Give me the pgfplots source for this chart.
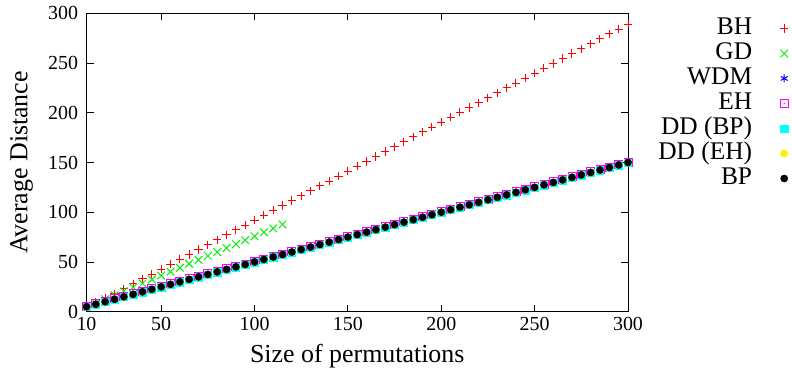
\documentclass[border=0pt]{standalone}
\usepackage{fontspec}
\setmainfont{Liberation Serif}
\newfontfamily\lserif{Liberation Serif}
\usepackage{pgfplots}
\usepackage{pgfplotstable}
\pgfplotsset{compat=1.18}
\pgfdeclareplotmark{sqdot}{%
  \pgfpathrectangle{\pgfpoint{-\pgfplotmarksize}{-\pgfplotmarksize}}{\pgfpoint{2\pgfplotmarksize}{2\pgfplotmarksize}}%
  \pgfusepathqstroke
  \pgfpathcircle{\pgfpointorigin}{0.6pt}%
  \pgfusepathqfill
}
\definecolor{gpred}{RGB}{255,0,0}
\definecolor{gpgreen}{RGB}{0,240,0}
\definecolor{gpblue}{RGB}{0,0,255}
\definecolor{gpmag}{RGB}{255,0,255}
\definecolor{gpcyan}{RGB}{0,255,255}
\definecolor{gpyellow}{RGB}{255,240,0}

\pgfplotstableread{
x BH WDM EH DDBP DDEH BP
10 5.0 5.0 5.5 4.7 5.0 5.0
15 9.3 7.5 8.0 7.2 7.5 7.5
20 14.0 10.0 10.5 9.7 10.0 10.0
25 18.1 12.5 13.0 12.2 12.5 12.5
30 23.1 15.0 15.5 14.7 15.0 15.0
35 28.0 17.5 18.0 17.2 17.5 17.5
40 32.9 20.0 20.5 19.7 20.0 20.0
45 37.8 22.5 23.0 22.2 22.5 22.5
50 42.8 25.0 25.5 24.7 25.0 25.0
55 47.7 27.5 28.0 27.2 27.5 27.5
60 52.6 30.0 30.5 29.7 30.0 30.0
65 57.5 32.5 33.0 32.2 32.5 32.5
70 62.5 35.0 35.5 34.7 35.0 35.0
75 67.4 37.5 38.0 37.2 37.5 37.5
80 72.3 40.0 40.5 39.7 40.0 40.0
85 77.2 42.5 43.0 42.2 42.5 42.5
90 82.2 45.0 45.5 44.7 45.0 45.0
95 87.1 47.5 48.0 47.2 47.5 47.5
100 92.0 50.0 50.5 49.7 50.0 50.0
105 96.9 52.5 53.0 52.2 52.5 52.5
110 101.9 55.0 55.5 54.7 55.0 55.0
115 106.8 57.5 58.0 57.2 57.5 57.5
120 111.7 60.0 60.5 59.7 60.0 60.0
125 116.6 62.5 63.0 62.2 62.5 62.5
130 121.6 65.0 65.5 64.7 65.0 65.0
135 126.5 67.5 68.0 67.2 67.5 67.5
140 131.4 70.0 70.5 69.7 70.0 70.0
145 136.3 72.5 73.0 72.2 72.5 72.5
150 141.3 75.0 75.5 74.7 75.0 75.0
155 146.2 77.5 78.0 77.2 77.5 77.5
160 151.1 80.0 80.5 79.7 80.0 80.0
165 156.0 82.5 83.0 82.2 82.5 82.5
170 161.0 85.0 85.5 84.7 85.0 85.0
175 165.9 87.5 88.0 87.2 87.5 87.5
180 170.8 90.0 90.5 89.7 90.0 90.0
185 175.7 92.5 93.0 92.2 92.5 92.5
190 180.7 95.0 95.5 94.7 95.0 95.0
195 185.6 97.5 98.0 97.2 97.5 97.5
200 190.5 100.0 100.5 99.7 100.0 100.0
205 195.4 102.5 103.0 102.2 102.5 102.5
210 200.4 105.0 105.5 104.7 105.0 105.0
215 205.3 107.5 108.0 107.2 107.5 107.5
220 210.2 110.0 110.5 109.7 110.0 110.0
225 215.1 112.5 113.0 112.2 112.5 112.5
230 220.1 115.0 115.5 114.7 115.0 115.0
235 225.0 117.5 118.0 117.2 117.5 117.5
240 229.9 120.0 120.5 119.7 120.0 120.0
245 234.8 122.5 123.0 122.2 122.5 122.5
250 239.8 125.0 125.5 124.7 125.0 125.0
255 244.7 127.5 128.0 127.2 127.5 127.5
260 249.6 130.0 130.5 129.7 130.0 130.0
265 254.5 132.5 133.0 132.2 132.5 132.5
270 259.5 135.0 135.5 134.7 135.0 135.0
275 264.4 137.5 138.0 137.2 137.5 137.5
280 269.3 140.0 140.5 139.7 140.0 140.0
285 274.2 142.5 143.0 142.2 142.5 142.5
290 279.2 145.0 145.5 144.7 145.0 145.0
295 284.1 147.5 148.0 147.2 147.5 147.5
300 289.0 150.0 150.5 149.7 150.0 150.0
}\maintable

\pgfplotstableread{
x GD
10 4.7
15 8.7
20 12.6
25 16.6
30 20.5
35 24.5
40 28.4
45 32.4
50 36.3
55 40.3
60 44.2
65 48.2
70 52.1
75 56.1
80 60.0
85 64.0
90 67.9
95 71.9
100 75.8
105 79.8
110 83.7
115 87.7
}\gdtable

\begin{document}
\begin{tikzpicture}
\useasboundingbox (0,0) rectangle (792bp,368bp);
\begin{axis}[
  at={(86.5bp,56.3bp)}, anchor=south west,
  scale only axis,
  width=541.5bp, height=298.4bp,
  xmin=10, xmax=300, ymin=0, ymax=300,
  xtick={10,50,100,150,200,250,300},
  ytick={0,50,100,150,200,250,300},
  tick align=inside,
  major tick length=7bp,
  axis line style={line width=1bp, black},
  every tick/.style={line width=0.9bp, black},
  /pgf/number format/assume math mode=true,
  ticklabel style={font=\lserif\fontsize{20}{24}\selectfont},
  xticklabel style={yshift=-2bp},
  yticklabel style={xshift=-5bp},
  clip=false,
  xlabel={Size of permutations},
  ylabel={Average Distance},
  label style={font=\lserif\fontsize{26}{30}\selectfont},
  xlabel style={at={(axis description cs:0.5,-0.1702)}, anchor=base},
  ylabel style={at={(axis description cs:-0.109,0.5)}, anchor=base, rotate=0},
  legend cell align=right,
  legend plot pos=right,
  legend style={
    at={(791.5bp-86.5bp,296.4bp)}, anchor=north east,
    draw=none, fill=none,
    font=\lserif\fontsize{25.5}{26}\selectfont,
    nodes={inner sep=0pt, text height=17.5bp, text depth=4.5bp},
    row sep=3bp, column sep=28bp,
  },
]
\addplot[only marks, mark=+, mark size=4.1bp, color=gpred, mark options={line width=1bp}] table[x=x, y=BH] {\maintable};
\addlegendentry{BH}
\addplot[only marks, mark=x, mark size=5.4bp, color=gpgreen, mark options={line width=1bp}] table[x=x, y=GD] {\gdtable};
\addlegendentry{GD}
\addplot[only marks, mark=asterisk, mark size=4bp, color=gpblue, mark options={line width=1bp}] table[x=x, y=WDM] {\maintable};
\addlegendentry{WDM}
\addplot[only marks, mark=sqdot, mark size=4bp, color=gpmag, mark options={line width=0.9bp, fill=gpmag}] table[x=x, y=EH] {\maintable};
\addlegendentry{EH}
\addplot[only marks, mark=square*, mark size=3.6bp, color=gpcyan, mark options={draw=gpcyan, fill=gpcyan}] table[x=x, y=DDBP] {\maintable};
\addlegendentry{DD (BP)}
\addplot[only marks, mark=*, mark size=3.6bp, color=gpyellow, mark options={draw=gpyellow, fill=gpyellow}] table[x=x, y=DDEH] {\maintable};
\addlegendentry{DD (EH)}
\addplot[only marks, mark=*, mark size=3.6bp, color=black, mark options={draw=black, fill=black}] table[x=x, y=BP] {\maintable};
\addlegendentry{BP}
\end{axis}
\end{tikzpicture}
\end{document}
